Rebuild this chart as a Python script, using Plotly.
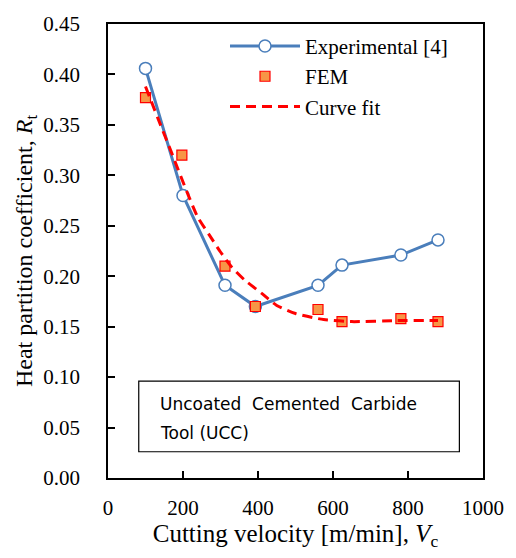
import plotly.graph_objects as go

# Data
exp_v = [100, 200, 312, 393, 560, 624, 781, 880]
exp_r = [0.406, 0.280, 0.191, 0.170, 0.191, 0.211, 0.221, 0.236]

fem_v = [100, 197, 312, 393, 560, 624, 781, 880]
fem_r = [0.377, 0.320, 0.210, 0.170, 0.167, 0.155, 0.158, 0.155]

fit_v = [100, 140, 170, 210, 240, 270, 300, 330, 365, 410, 450, 500, 575, 650, 770, 880]
fit_r = [0.388, 0.350, 0.322, 0.284, 0.258, 0.241, 0.224, 0.209, 0.196, 0.183, 0.171,
         0.163, 0.157, 0.155, 0.156, 0.156]

x_ticks = [0, 200, 400, 600, 800, 1000]
y_ticks = [0.00, 0.05, 0.10, 0.15, 0.20, 0.25, 0.30, 0.35, 0.40, 0.45]

SERIF = "Liberation Serif"

fig = go.Figure()
fig.add_trace(go.Scatter(
    x=exp_v, y=exp_r, mode="lines+markers", name="Experimental [4]",
    line=dict(color="#4a7ebb", width=3),
    marker=dict(symbol="circle", size=12, color="white",
                line=dict(color="#4a7ebb", width=1.5)),
))
fig.add_trace(go.Scatter(
    x=fem_v, y=fem_r, mode="markers", name="FEM",
    marker=dict(symbol="square", size=10, color="#f79646",
                line=dict(color="#ff0000", width=1.2)),
))
fig.add_trace(go.Scatter(
    x=fit_v, y=fit_r, mode="lines", name="Curve fit",
    line=dict(color="#ff0000", width=3, dash="10px,6px", shape="spline", smoothing=0.6),
))

# annotation box
fig.add_shape(type="rect", xref="x", yref="y", x0=82, x1=937, y0=0.026, y1=0.096,
              line=dict(color="black", width=1.2), fillcolor="white", layer="below")
fig.add_annotation(xref="x", yref="y", x=134, y=0.0735, xanchor="left", yanchor="middle",
                   text="Uncoated  Cemented  Carbide", showarrow=False,
                   font=dict(family="DejaVu Sans", size=17, color="black"))
fig.add_annotation(xref="x", yref="y", x=134, y=0.0445, xanchor="left", yanchor="middle",
                   text="Tool (UCC)", showarrow=False,
                   font=dict(family="DejaVu Sans", size=17, color="black"))

fig.update_layout(
    width=516, height=558,
    margin=dict(l=108, r=28, t=16, b=80),
    paper_bgcolor="white", plot_bgcolor="white",
    font=dict(family=SERIF, size=21, color="black"),
    showlegend=True,
    legend=dict(x=0.312, y=0.996, xanchor="left", yanchor="top",
                bgcolor="rgba(0,0,0,0)", font=dict(family=SERIF, size=21, color="black"),
                itemwidth=70, tracegroupgap=0, itemsizing="trace"),
    xaxis=dict(range=[0, 1000], tickvals=x_ticks, ticktext=[str(v) for v in x_ticks],
               ticks="inside", ticklen=7, tickwidth=1.5, tickcolor="black",
               ticklabelstandoff=10,
               tickfont=dict(family=SERIF, size=21, color="black"),
               showline=True, linecolor="black", linewidth=1.5, mirror=True,
               showgrid=False, zeroline=False,
               title=dict(text="Cutting velocity [m/min], <i>V</i><sub>c</sub>",
                          font=dict(family=SERIF, size=25, color="black"), standoff=4)),
    yaxis=dict(range=[0, 0.45], tickvals=y_ticks, ticktext=[f"{v:.2f}" for v in y_ticks],
               ticks="inside", ticklen=7, tickwidth=1.5, tickcolor="black",
               ticklabelstandoff=22,
               tickfont=dict(family=SERIF, size=21, color="black"),
               showline=True, linecolor="black", linewidth=1.5, mirror=True,
               showgrid=False, zeroline=False,
               title=dict(text="Heat partition coefficient, <i>R</i><sub>t</sub>",
                          font=dict(family=SERIF, size=24, color="black"), standoff=4)),
)

fig.write_html("out.html")
